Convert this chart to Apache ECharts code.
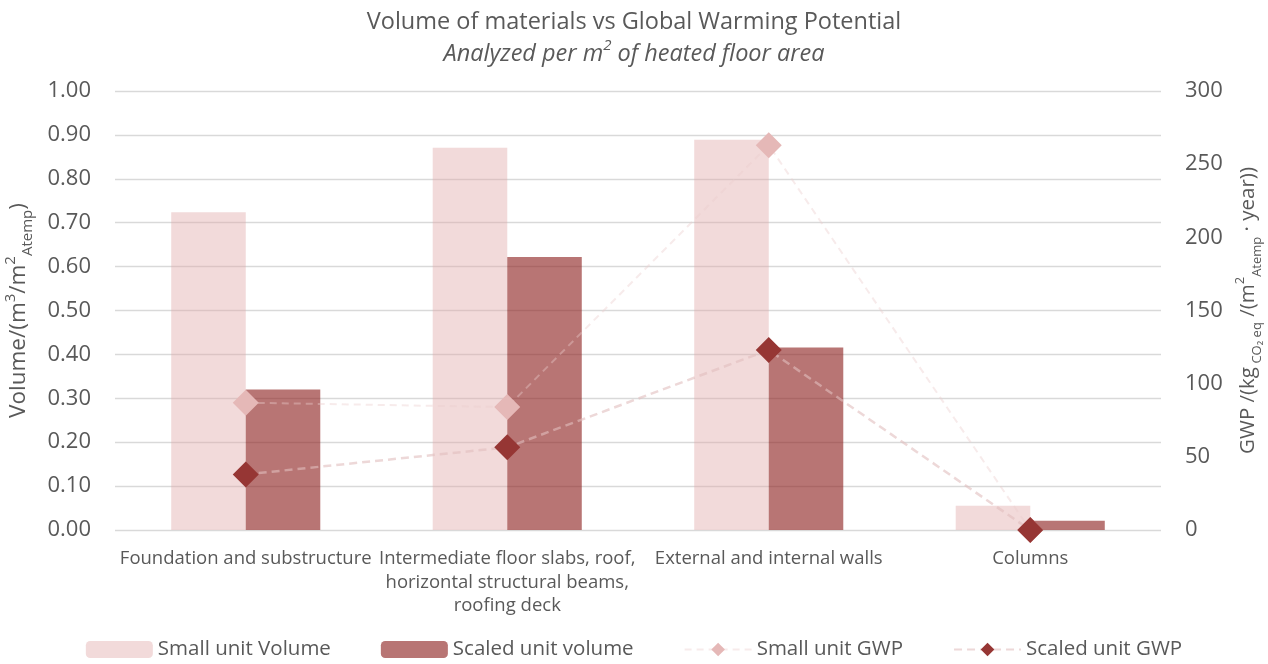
<!DOCTYPE html>
<html>
<head>
<meta charset="utf-8">
<script src="https://cdn.jsdelivr.net/npm/echarts@6/dist/echarts.min.js"></script>
<style>
  html, body { margin: 0; padding: 0; background: #ffffff; }
  #chart { width: 1268px; height: 664px; }
</style>
</head>
<body>
<div id="chart"></div>
<script>
// Building parts compared
const categories = [
  'Foundation and substructure',
  'Intermediate floor slabs, roof,\nhorizontal structural beams,\nroofing deck',
  'External and internal walls',
  'Columns'
];
// Material volume per m² heated floor area (m³/m²)
const smallUnitVolume = [0.724, 0.871, 0.889, 0.055];
const scaledUnitVolume = [0.320, 0.622, 0.416, 0.021];
// Global warming potential (kg CO2 eq / (m² · year))
const smallUnitGWP = [87, 84, 263, 0];
const scaledUnitGWP = [38, 56.5, 123, 0];
// Axis ticks
const volumeTicks = { min: 0, max: 1, interval: 0.1 };
const gwpTicks = { min: 0, max: 300, interval: 50 };

const FONT = '"Open Sans", "DejaVu Sans", sans-serif';
const TXT = '#595959';

const chart = echarts.init(document.getElementById('chart'), null, { renderer: 'canvas' });

chart.setOption({
  backgroundColor: '#ffffff',
  animation: false,
  textStyle: { fontFamily: FONT, color: TXT },
  title: {
    left: 'center',
    top: 5,
    itemGap: 4,
    text: 'Volume of materials vs Global Warming Potential',
    textStyle: { fontFamily: FONT, fontSize: 23.5, fontWeight: 'normal', color: TXT },
    subtext: 'Analyzed per m{sup|2} of heated floor area',
    subtextStyle: {
      fontFamily: FONT, fontSize: 23.5, fontStyle: 'italic', color: TXT, lineHeight: 32,
      rich: {
        sup: { fontSize: 15, fontStyle: 'italic', color: TXT, verticalAlign: 'top', lineHeight: 32 }
      }
    }
  },
  legend: {
    top: 634,
    left: 'center',
    itemGap: 50,
    itemWidth: 67,
    itemHeight: 17,
    textStyle: { fontFamily: FONT, fontSize: 20.5, color: TXT },
    data: ['Small unit Volume', 'Scaled unit volume', 'Small unit GWP', 'Scaled unit GWP']
  },
  grid: { left: 115, right: 107, top: 91, bottom: 134, containLabel: false, outerBoundsMode: 'none' },
  xAxis: {
    type: 'category',
    data: categories,
    axisLine: { show: false },
    axisTick: { show: false },
    axisLabel: {
      interval: 0, margin: 17, fontFamily: FONT, fontSize: 18.5, color: TXT, lineHeight: 23.5
    }
  },
  yAxis: [
    {
      type: 'value',
      min: volumeTicks.min, max: volumeTicks.max, interval: volumeTicks.interval,
      position: 'left',
      axisLine: { show: false },
      axisTick: { show: false },
      axisLabel: {
        margin: 24, fontFamily: FONT, fontSize: 22, color: TXT,
        formatter: v => v.toFixed(2)
      },
      splitLine: { lineStyle: { color: '#d9d9d9', width: 1.3 } },
      name: 'Volume/(m{sup|3}/m{sup|2}{sub|Atemp})',
      nameLocation: 'middle',
      nameGap: 80,
      nameTextStyle: {
        fontFamily: FONT, fontSize: 22.5, color: TXT, lineHeight: 32,
        rich: {
          sup: { fontSize: 15, color: TXT, verticalAlign: 'top', lineHeight: 32 },
          sub: { fontSize: 15, color: TXT, verticalAlign: 'bottom', lineHeight: 32 }
        }
      }
    },
    {
      type: 'value',
      min: gwpTicks.min, max: gwpTicks.max, interval: gwpTicks.interval,
      position: 'right',
      axisLine: { show: false },
      axisTick: { show: false },
      splitLine: { show: false },
      axisLabel: { margin: 24, fontFamily: FONT, fontSize: 22, color: TXT },
      name: 'GWP /(kg{sub| CO₂ eq} /(m{sup|2}{sub|Atemp} · year))',
      nameLocation: 'middle',
      nameGap: 72,
      nameRotate: 90,
      nameTextStyle: {
        fontFamily: FONT, fontSize: 20.5, color: TXT, lineHeight: 30,
        rich: {
          sup: { fontSize: 13, color: TXT, verticalAlign: 'top', lineHeight: 30 },
          sub: { fontSize: 13, color: TXT, verticalAlign: 'bottom', lineHeight: 30 }
        }
      }
    }
  ],
  series: [
    {
      name: 'Small unit Volume',
      type: 'bar',
      yAxisIndex: 0,
      data: smallUnitVolume,
      barGap: '0%',
      barCategoryGap: '43%',
      itemStyle: { color: 'rgba(224,168,168,0.42)' }
    },
    {
      name: 'Scaled unit volume',
      type: 'bar',
      yAxisIndex: 0,
      data: scaledUnitVolume,
      itemStyle: { color: 'rgba(140,32,30,0.62)' }
    },
    {
      name: 'Small unit GWP',
      type: 'line',
      yAxisIndex: 1,
      data: smallUnitGWP,
      symbol: 'diamond',
      symbolSize: 26,
      z: 5,
      itemStyle: { color: '#e5b8b7' },
      lineStyle: { color: 'rgba(235,205,205,0.4)', width: 2, type: [7, 5] }
    },
    {
      name: 'Scaled unit GWP',
      type: 'line',
      yAxisIndex: 1,
      data: scaledUnitGWP,
      symbol: 'diamond',
      symbolSize: 26,
      z: 6,
      itemStyle: { color: '#963634' },
      lineStyle: { color: 'rgba(225,190,190,0.6)', width: 2.5, type: [8, 5] }
    }
  ]
});
</script>
</body>
</html>
